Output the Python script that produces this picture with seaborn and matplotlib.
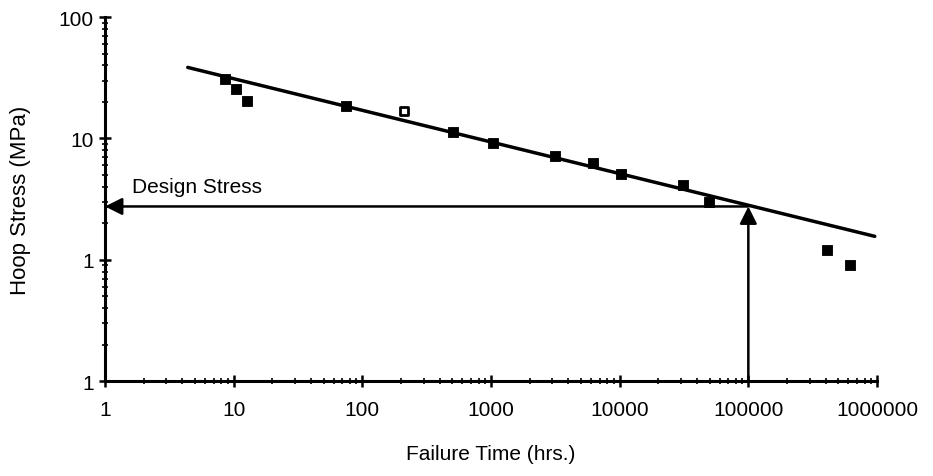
import numpy as np
import pandas as pd
import seaborn as sns
import matplotlib.pyplot as plt
from matplotlib.ticker import FixedLocator, LogLocator, NullFormatter

# failure test data
fail_time = [8.5, 10.5, 12.6, 75, 510, 1040, 3140, 6200, 10300, 30800, 49600, 405000, 615000]
hoop_stress = [31, 25.5, 20.5, 18.4, 11.4, 9.2, 7.2, 6.3, 5.1, 4.15, 3.0, 1.21, 0.9]
open_time = [210]
open_stress = [16.7]

# regression line end points
fit_time = [4.4, 9.6e5]
fit_stress = [38.5, 1.56]

design_time = 1e5
design_stress = 2.75

x_ticks = [1, 10, 100, 1000, 10000, 100000, 1000000]
x_labels = ['1', '10', '100', '1000', '10000', '100000', '1000000']
y_ticks = [0.1, 1, 10, 100]
y_labels = ['1', '1', '10', '100']

sns.set_style('ticks')
plt.rcParams['font.family'] = ['Liberation Sans', 'DejaVu Sans']
plt.rcParams['text.color'] = 'black'
plt.rcParams['axes.labelcolor'] = 'black'

fig = plt.figure(figsize=(9.33, 4.77), dpi=100)
ax = fig.add_axes([0.1125, 0.199, 0.8275, 0.763])

pts = pd.DataFrame({'time': fail_time, 'stress': hoop_stress})
sns.scatterplot(data=pts, x='time', y='stress', marker='s', s=60, color='black',
                edgecolor='black', ax=ax, zorder=3)
sns.scatterplot(x=open_time, y=open_stress, marker='s', s=40, facecolor='white',
                edgecolor='black', linewidth=2, ax=ax, zorder=3)
sns.lineplot(x=fit_time, y=fit_stress, color='black', linewidth=2.5, ax=ax, zorder=2)

ax.set_xscale('log')
ax.set_yscale('log')
ax.set_xlim(1, 1e6)
ax.set_ylim(0.1, 100)

# design stress arrows
arrow = dict(arrowstyle='-|>', color='black', lw=1.8, mutation_scale=26, shrinkA=0, shrinkB=0)
ax.annotate('', xy=(1, design_stress), xytext=(design_time, design_stress), arrowprops=arrow)
ax.annotate('', xy=(design_time, design_stress), xytext=(design_time, 0.1), arrowprops=arrow)
ax.text(1.62, 4.0, 'Design Stress', fontsize=15, va='center', ha='left', color='black')

ax.xaxis.set_major_locator(FixedLocator(x_ticks))
ax.set_xticklabels(x_labels)
ax.yaxis.set_major_locator(FixedLocator(y_ticks))
ax.set_yticklabels(y_labels)
ax.xaxis.set_minor_locator(LogLocator(base=10, subs=np.arange(2, 10)))
ax.yaxis.set_minor_locator(LogLocator(base=10, subs=np.arange(2, 10)))
ax.xaxis.set_minor_formatter(NullFormatter())
ax.yaxis.set_minor_formatter(NullFormatter())

ax.tick_params(which='major', direction='inout', length=9, width=1.8, labelsize=15, colors='black')
ax.tick_params(which='minor', direction='inout', length=4, width=1.2, colors='black')
ax.tick_params(axis='x', pad=9)

sns.despine(ax=ax)
for s in ['left', 'bottom']:
    ax.spines[s].set_linewidth(2.2)
    ax.spines[s].set_color('black')

ax.set_xlabel('Failure Time (hrs.)', fontsize=15, labelpad=18, color='black')
ax.set_ylabel('Hoop Stress (MPa)', fontsize=16, labelpad=20, color='black')

fig.savefig('out.png', dpi=100)
